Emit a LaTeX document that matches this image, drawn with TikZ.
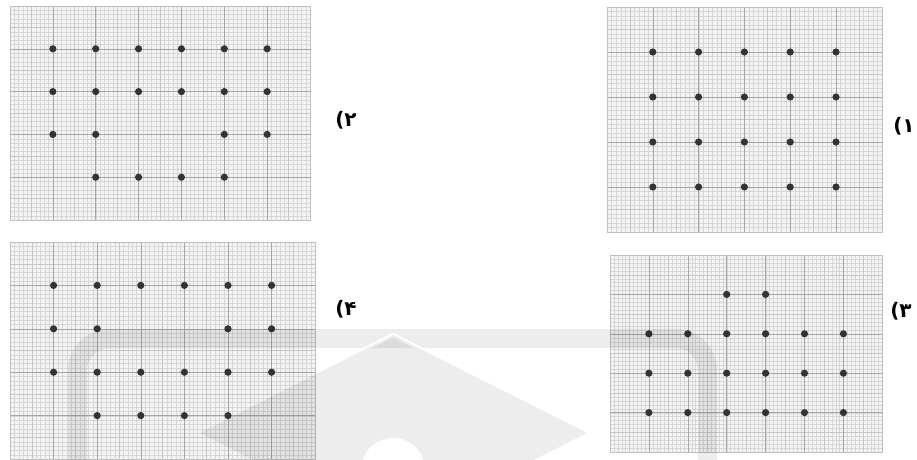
\documentclass[tikz,border=0pt]{standalone}
\usepackage{fontspec}
\newfontfamily\arabicfont[Script=Arabic]{DejaVu Sans}
\TeXXeTstate=1

\begin{document}
\begin{tikzpicture}[
  x=1pt, y=-1pt,
  paper/.style={fill=gray!9},
  edge/.style={draw=gray!50, line width=0.5pt},
  fineline/.style={draw=gray!32, line width=0.22pt},
  halfline/.style={draw=gray!45, line width=0.3pt},
  majorline/.style={draw=gray!70, line width=0.6pt},
  dot/.style={fill=black!80},
  lab/.style={font=\arabicfont\bfseries\fontsize{20}{24}\selectfont, inner sep=0pt},
  wmark/.style={fill=black, fill opacity=0.07}
]
\useasboundingbox (0,0) rectangle (917,459);

% graph paper panels: name / origin / cell size / columns / dots
\foreach \name/\ox/\oy/\cw/\ch/\nc/\dotlist in {
    p2/10/6/42.86/42.8/7/{1/1,2/1,3/1,4/1,5/1,6/1,1/2,2/2,3/2,4/2,5/2,6/2,1/3,2/3,5/3,6/3,2/4,3/4,4/4,5/4},
    p1/607/7/45.8/45/6/{1/1,2/1,3/1,4/1,5/1,1/2,2/2,3/2,4/2,5/2,1/3,2/3,3/3,4/3,5/3,1/4,2/4,3/4,4/4,5/4},
    p4/10/242/43.6/43.4/7/{1/1,2/1,3/1,4/1,5/1,6/1,1/2,2/2,5/2,6/2,1/3,2/3,3/3,4/3,5/3,6/3,2/4,3/4,4/4,5/4},
    p3/610/255/38.9/39.4/7/{3/1,4/1,1/2,2/2,3/2,4/2,5/2,6/2,1/3,2/3,3/3,4/3,5/3,6/3,1/4,2/4,3/4,4/4,5/4,6/4}} {
  \begin{scope}[shift={(\ox,\oy)}, x=\cw pt, y=-\ch pt]
    \pgfmathtruncatemacro\nx{\nc*10}
    \pgfmathtruncatemacro\nm{\nc-1}
    \fill[paper] (0,0) rectangle (\nc,5);
    \foreach \i in {1,...,\nx} \draw[fineline] (\i/10,0) -- (\i/10,5);
    \foreach \j in {1,...,49} \draw[fineline] (0,\j/10) -- (\nc,\j/10);
    \foreach \i in {0,...,\nm} \draw[halfline] (\i+0.5,0) -- (\i+0.5,5);
    \foreach \j in {0,...,4} \draw[halfline] (0,\j+0.5) -- (\nc,\j+0.5);
    \foreach \i in {1,...,\nm} \draw[majorline] (\i,0) -- (\i,5);
    \foreach \j in {1,...,4} \draw[majorline] (0,\j) -- (\nc,\j);
    \draw[edge] (0,0) rectangle (\nc,5);
    \foreach \c/\r in \dotlist \fill[dot] (\c,\r) circle[radius=3.6pt];
  \end{scope}
}

% option labels
\node[lab] (l2) at (346,120) {\beginR ۲)\endR};
\node[lab] (l1) at (904,126) {\beginR ۱)\endR};
\node[lab] (l4) at (346,309) {\beginR ۴)\endR};
\node[lab] (l3) at (901,311) {\beginR ۳)\endR};

% faint watermark
\draw[draw=black, draw opacity=0.07, line width=19pt, rounded corners=32pt]
  (77.5,470) -- (77.5,338.5) -- (707.5,338.5) -- (707.5,470);
\begin{scope}
  \clip (316,300) rectangle (606,459);
  \draw[white, line width=4pt] (200,433) -- (393,335) -- (587,433);
\end{scope}
\fill[wmark] (200,433) -- (393,335) -- (587,433) -- (393,531) -- cycle;
\fill[white] (393,470) circle[radius=32pt];
\end{tikzpicture}
\end{document}
